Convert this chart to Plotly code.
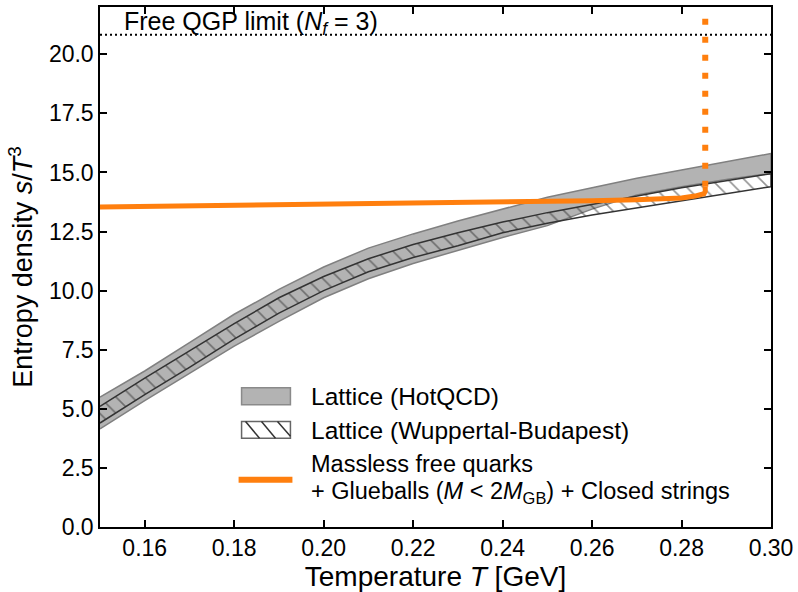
import plotly.graph_objects as go

# Temperature grid (GeV)
T = [0.15, 0.16, 0.17, 0.18, 0.19, 0.20, 0.21, 0.22, 0.23, 0.24, 0.25, 0.26, 0.27, 0.28, 0.29, 0.30]

# HotQCD band (s/T^3)
hq_hi = [5.5, 6.6, 7.8, 9.0, 10.05, 11.0, 11.8, 12.4, 12.95, 13.45, 13.95, 14.35, 14.75, 15.1, 15.45, 15.8]
hq_lo = [4.15, 5.35, 6.5, 7.65, 8.7, 9.7, 10.5, 11.15, 11.7, 12.25, 12.75, 13.45, 14.05, 14.4, 14.7, 14.96]

# Wuppertal-Budapest band
wb_hi = [5.1, 6.3, 7.45, 8.6, 9.7, 10.6, 11.35, 11.95, 12.45, 12.9, 13.3, 13.65, 14.0, 14.35, 14.65, 14.95]
wb_lo = [4.4, 5.6, 6.75, 7.95, 9.05, 10.0, 10.8, 11.4, 11.9, 12.45, 12.85, 13.2, 13.5, 13.8, 14.1, 14.4]

# Model curve
model_T = [0.15, 0.17, 0.19, 0.21, 0.23, 0.25, 0.26, 0.27, 0.275, 0.28, 0.283, 0.285, 0.2853, 0.2853]
model_s = [13.54, 13.58, 13.63, 13.68, 13.72, 13.77, 13.8, 13.84, 13.87, 13.92, 14.0, 14.1, 14.2, 14.4]

# Deconfinement jump (dotted vertical)
jump_T = [0.2853, 0.2853]
jump_s = [14.4, 22.5]

# Free QGP limit
qgp_T = [0.15, 0.30]
qgp_s = [20.83, 20.83]

# Legend labels
leg_labels = [
    "Lattice (HotQCD)",
    "Lattice (Wuppertal-Budapest)",
    "Massless free quarks",
    "+ Glueballs (<i>M</i> &lt; 2<i>M</i><sub>GB</sub>) + Closed strings",
]

FONT = "Liberation Sans, Arial, sans-serif"
ORANGE = "#ff7f0e"

fig = go.Figure()

fig.add_trace(go.Scatter(
    x=T + T[::-1], y=hq_hi + hq_lo[::-1],
    fill="toself", fillcolor="#b3b3b3",
    line=dict(color="#808080", width=1.5),
    mode="lines", name=leg_labels[0], showlegend=False,
))

fig.add_trace(go.Scatter(
    x=T + T[::-1], y=wb_hi + wb_lo[::-1],
    fill="toself", fillcolor="rgba(0,0,0,0)",
    fillpattern=dict(shape="\\", fgcolor="#2a2a2a", bgcolor="rgba(0,0,0,0)",
                     size=11.5, solidity=0.14),
    line=dict(color="#333333", width=1.5),
    mode="lines", name=leg_labels[1], showlegend=False,
))

fig.add_trace(go.Scatter(
    x=qgp_T, y=qgp_s, mode="lines",
    line=dict(color="black", width=2, dash="2px,3px"),
    showlegend=False,
))

fig.add_trace(go.Scatter(
    x=model_T, y=model_s, mode="lines",
    line=dict(color=ORANGE, width=5),
    name=leg_labels[2], showlegend=False,
))

fig.add_trace(go.Scatter(
    x=jump_T, y=jump_s, mode="lines",
    line=dict(color=ORANGE, width=6, dash="6px,12px"),
    showlegend=False,
))

fig.add_annotation(
    x=0.1549, y=21.33, xref="x", yref="y",
    text="Free QGP limit (<i>N<sub>f</sub></i> = 3)",
    showarrow=False, xanchor="left", yanchor="middle",
    font=dict(size=25, color="black", family=FONT),
)

# ---- manual legend (plot-area pixel helpers) ----
L, R, TOP, BOT = 100, 773, 5, 532
def px(v):
    return (v - L) / (R - L)
def py(v):
    return (BOT - v) / (BOT - TOP)

shapes = []
shapes.append(dict(type="rect", xref="paper", yref="paper",
                   x0=px(242), x1=px(291), y0=py(408), y1=py(391),
                   fillcolor="#b3b3b3", line=dict(color="#8a8a8a", width=1.5)))
shapes.append(dict(type="rect", xref="paper", yref="paper",
                   x0=px(242), x1=px(291), y0=py(442), y1=py(425),
                   fillcolor="white", line=dict(color="#666666", width=1.5)))
for (ax, ay, bx, by) in [(246, 425, 260, 442), (262, 425, 276, 442), (278, 425, 291, 440)]:
    shapes.append(dict(type="line", xref="paper", yref="paper",
                       x0=px(ax), y0=py(ay), x1=px(bx), y1=py(by),
                       line=dict(color="#333333", width=1.5)))
shapes.append(dict(type="line", xref="paper", yref="paper",
                   x0=px(239), x1=px(293), y0=py(484), y1=py(484),
                   line=dict(color=ORANGE, width=6)))

for lab, yc, fs in zip(leg_labels, [400, 434.5, 468, 497.5], [24.5, 24.5, 23.5, 23.5]):
    fig.add_annotation(x=px(310), y=py(yc), xref="paper", yref="paper",
                       text=lab, showarrow=False, xanchor="left", yanchor="middle",
                       font=dict(size=fs, color="black", family=FONT))

axis_common = dict(
    showline=True, linecolor="black", linewidth=1.5, mirror="ticks",
    ticks="inside", ticklen=7, tickwidth=1.5, tickcolor="black",
    showgrid=False, zeroline=False,
    tickfont=dict(size=23, color="black", family=FONT),
)

fig.update_xaxes(
    range=[0.15, 0.30], tickvals=[0.16, 0.18, 0.20, 0.22, 0.24, 0.26, 0.28, 0.30],
    tickformat=".2f",
    title=dict(text="Temperature <i>T</i> [GeV]", font=dict(size=28, color="black", family=FONT), standoff=6),
    **axis_common,
)
fig.update_yaxes(
    range=[0, 22], tickvals=[0, 2.5, 5, 7.5, 10, 12.5, 15, 17.5, 20],
    tickformat=".1f",
    title=dict(text="Entropy density <i>s</i>/<i>T</i><sup>3</sup>", font=dict(size=27, color="black", family=FONT), standoff=8),
    **axis_common,
)

fig.update_layout(
    width=798, height=592,
    margin=dict(l=100, r=25, t=5, b=60),
    paper_bgcolor="white", plot_bgcolor="white",
    font=dict(family=FONT, color="black"),
    showlegend=False,
    shapes=shapes,
)

fig.write_html("out.html")
